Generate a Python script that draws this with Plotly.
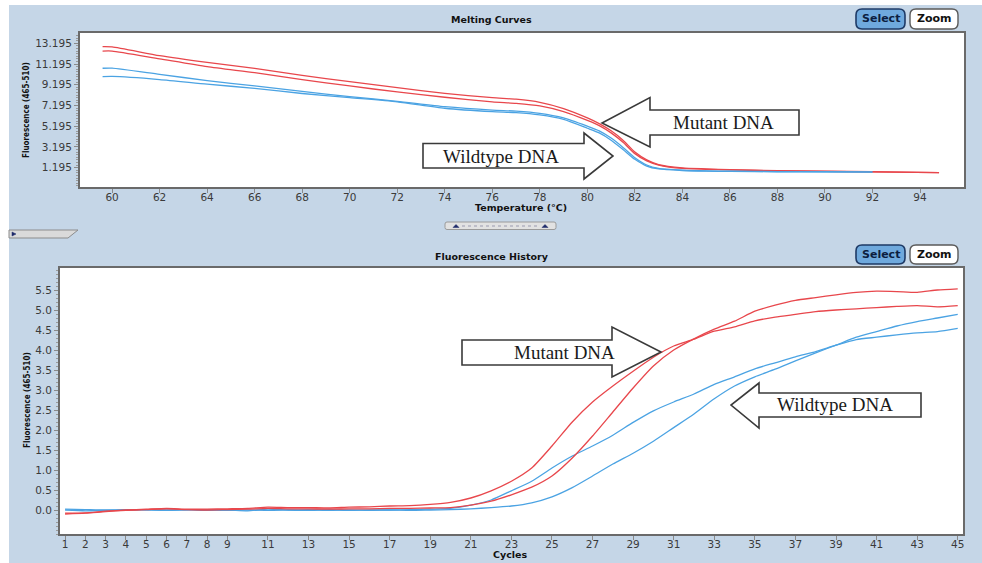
import plotly.graph_objects as go

# ---------------- DATA ----------------
# Melting curves (top panel)
temp_red = [59.6, 60, 62, 64, 66, 68, 70, 72, 74, 76, 77, 78, 79, 80, 80.5, 81, 81.5, 82, 82.5, 83, 84, 85, 86, 88, 90, 92, 94.8]
mut_melt_1 = [12.87, 12.85, 12.0, 11.35, 10.78, 10.1, 9.49, 8.92, 8.37, 7.95, 7.8, 7.5, 6.9, 6.0, 5.45, 4.75, 3.85, 2.7, 1.95, 1.5, 1.18, 1.08, 1.0, 0.9, 0.85, 0.8, 0.72]
mut_melt_2 = [12.45, 12.45, 11.7, 10.95, 10.36, 9.7, 9.08, 8.5, 7.99, 7.55, 7.4, 7.15, 6.6, 5.75, 5.25, 4.55, 3.65, 2.55, 1.85, 1.45, 1.12, 1.04, 0.98, 0.88, 0.83, 0.78, 0.72]
temp_blue = [59.6, 60, 62, 64, 66, 68, 70, 72, 74, 76, 77, 78, 79, 80, 80.5, 81, 81.5, 82, 82.5, 83, 84, 85, 86, 88, 90, 92]
wt_melt_1 = [10.79, 10.8, 10.2, 9.6, 9.08, 8.55, 8.05, 7.6, 7.08, 6.75, 6.65, 6.44, 6.0, 5.2, 4.75, 4.05, 3.15, 2.15, 1.45, 1.12, 0.95, 0.88, 0.85, 0.82, 0.8, 0.78]
wt_melt_2 = [9.98, 10.0, 9.7, 9.25, 8.85, 8.35, 7.95, 7.55, 6.93, 6.6, 6.5, 6.28, 5.85, 5.0, 4.55, 3.85, 2.95, 2.0, 1.35, 1.07, 0.92, 0.86, 0.83, 0.8, 0.78, 0.76]

# Fluorescence history (bottom panel)
cycles = list(range(1, 46))
mut_amp_1 = [-0.08, -0.07, -0.03, 0.0, 0.02, 0.04, 0.02, 0.02, 0.03, 0.04, 0.07, 0.06, 0.06, 0.05, 0.07, 0.08, 0.1, 0.11, 0.14, 0.19,
             0.3, 0.48, 0.72, 1.05, 1.6, 2.2, 2.7, 3.1, 3.47, 3.82, 4.1, 4.27, 4.47, 4.58, 4.73, 4.82, 4.89, 4.96, 5.0, 5.03,
             5.06, 5.09, 5.11, 5.08, 5.11]
mut_amp_2 = [-0.1, -0.08, -0.04, -0.01, 0.01, 0.03, 0.01, 0.0, 0.01, 0.02, 0.04, 0.03, 0.03, 0.02, 0.03, 0.03, 0.04, 0.04, 0.05, 0.06,
             0.12, 0.22, 0.38, 0.57, 0.85, 1.3, 1.85, 2.45, 3.05, 3.6, 4.0, 4.28, 4.52, 4.72, 4.97, 5.12, 5.24, 5.31, 5.38, 5.44,
             5.47, 5.46, 5.44, 5.5, 5.53]
wt_amp_1 = [0.0, -0.02, -0.01, 0.0, 0.01, 0.0, 0.01, -0.01, 0.0, -0.02, 0.02, 0.0, -0.01, 0.01, -0.01, 0.0, 0.0, 0.01, 0.02, 0.04,
            0.12, 0.25, 0.48, 0.72, 1.05, 1.35, 1.6, 1.87, 2.19, 2.48, 2.7, 2.9, 3.14, 3.33, 3.53, 3.68, 3.83, 3.96, 4.12, 4.26,
            4.32, 4.38, 4.43, 4.46, 4.54]
wt_amp_2 = [0.02, 0.01, 0.0, 0.01, 0.0, -0.01, 0.0, 0.01, -0.01, 0.0, -0.01, 0.0, 0.01, -0.01, 0.0, -0.01, 0.0, -0.01, 0.0, 0.01,
            0.03, 0.06, 0.1, 0.18, 0.33, 0.56, 0.85, 1.15, 1.42, 1.72, 2.06, 2.4, 2.78, 3.1, 3.33, 3.52, 3.73, 3.93, 4.12, 4.32,
            4.46, 4.6, 4.71, 4.8, 4.89]

# Tick labels
melt_xticks = list(range(60, 95, 2))
melt_yticks = [1.195, 3.195, 5.195, 7.195, 9.195, 11.195, 13.195]
amp_xticks = [1, 2, 3, 4, 5, 6, 7, 8, 9, 11, 13, 15, 17, 19, 21, 23, 25, 27, 29, 31, 33, 35, 37, 39, 41, 43, 45]
amp_yticks = [0.0, 0.5, 1.0, 1.5, 2.0, 2.5, 3.0, 3.5, 4.0, 4.5, 5.0, 5.5]

# ---------------- STYLE / LAYOUT ----------------
W, H = 982, 563
RED = "#E8474C"
BLUE = "#4BA3E3"
PANEL = "#C5D6E7"
FONT = "DejaVu Sans"


def px(x, y):
    return x / W, 1 - y / H


fig = go.Figure()

for xs, ys, col in [(temp_red, mut_melt_1, RED), (temp_red, mut_melt_2, RED),
                    (temp_blue, wt_melt_1, BLUE), (temp_blue, wt_melt_2, BLUE)]:
    fig.add_trace(go.Scatter(x=xs, y=ys, mode="lines", line=dict(color=col, width=1.3, shape="spline", smoothing=0.6),
                             xaxis="x", yaxis="y", showlegend=False, hoverinfo="skip"))

for ys, col in [(wt_amp_1, BLUE), (wt_amp_2, BLUE), (mut_amp_1, RED), (mut_amp_2, RED)]:
    fig.add_trace(go.Scatter(x=cycles, y=ys, mode="lines", line=dict(color=col, width=1.3, shape="spline", smoothing=0.6),
                             xaxis="x2", yaxis="y2", showlegend=False, hoverinfo="skip"))

axis_common = dict(showline=True, mirror=True, linecolor="#6A6A6A", linewidth=2, showgrid=False, zeroline=False,
                   ticks="outside", ticklen=4, tickcolor="#8A8A8A", tickfont=dict(family=FONT, size=10.5, color="#3A3A3A"),
                   fixedrange=True)

top_x0, top_x1, top_y0, top_y1 = 80, 964, 33, 187
bot_x0, bot_x1, bot_y0, bot_y1 = 60, 963, 268, 534

fig.update_layout(
    width=W, height=H,
    margin=dict(l=0, r=0, t=0, b=0, pad=0),
    paper_bgcolor=PANEL,
    plot_bgcolor="white",
    xaxis=dict(axis_common, domain=[top_x0 / W, top_x1 / W], range=[58.65, 95.85], tickvals=melt_xticks, anchor="y",
               ticklabelstandoff=-5),
    yaxis=dict(axis_common, domain=[1 - top_y1 / H, 1 - top_y0 / H], range=[-0.67, 14.19], tickvals=melt_yticks,
               tickformat=".3f", anchor="x",
               minor=dict(ticks="outside", ticklen=2, tickcolor="#9A9A9A", tick0=0.195, dtick=0.25)),
    xaxis2=dict(axis_common, domain=[bot_x0 / W, bot_x1 / W], range=[0.75, 45.26], tickvals=amp_xticks, anchor="y2",
                ticklabelstandoff=-5),
    yaxis2=dict(axis_common, domain=[1 - bot_y1 / H, 1 - bot_y0 / H], range=[-0.6, 6.05], tickvals=amp_yticks,
                tickformat=".1f", anchor="x2",
                minor=dict(ticks="outside", ticklen=2, tickcolor="#9A9A9A", tick0=0, dtick=0.1)),
)

shapes = []
annotations = []

# white strips around the panel (top and left)
x0, y0 = px(0, 0)
x1, y1 = px(9, 563)
shapes.append(dict(type="rect", xref="paper", yref="paper", x0=x0, y0=y1, x1=x1, y1=y0,
                   fillcolor="white", line=dict(width=0), layer="below"))
x0, y0 = px(0, 0)
x1, y1 = px(982, 5)
shapes.append(dict(type="rect", xref="paper", yref="paper", x0=x0, y0=y1, x1=x1, y1=y0,
                   fillcolor="white", line=dict(width=0), layer="below"))


def txt(x, y, s, size=10, bold=True, color="#111", family=FONT, angle=0):
    ax, ay = px(x, y)
    annotations.append(dict(x=ax, y=ay, xref="paper", yref="paper", text=("<b>%s</b>" % s) if bold else s,
                            showarrow=False, xanchor="center", yanchor="middle", textangle=angle,
                            font=dict(family=family, size=size, color=color)))


# titles
txt(491, 20, "Melting Curves", size=9.5)
txt(492, 256, "Fluorescence History", size=9.5)
txt(521, 208, "Temperature (°C)", size=9.5)
txt(510, 554, "Cycles", size=9.5)
txt(27, 110, "Fluorescence (465-510)", size=8, family="DejaVu Sans Condensed", angle=-90)
txt(27, 400, "Fluorescence (465-510)", size=8, family="DejaVu Sans Condensed", angle=-90)


def rounded(xa, ya, xb, yb, r, fill, line, lw=1.5):
    X0, Y0 = px(xa, ya)
    X1, Y1 = px(xb, yb)
    rx, ry = r / W, r / H
    path = (f"M {X0 + rx},{Y0} L {X1 - rx},{Y0} Q {X1},{Y0} {X1},{Y0 - ry} L {X1},{Y1 + ry} "
            f"Q {X1},{Y1} {X1 - rx},{Y1} L {X0 + rx},{Y1} Q {X0},{Y1} {X0},{Y1 + ry} L {X0},{Y0 - ry} "
            f"Q {X0},{Y0} {X0 + rx},{Y0} Z")
    shapes.append(dict(type="path", xref="paper", yref="paper", path=path, fillcolor=fill,
                       line=dict(color=line, width=lw)))


# Select / Zoom buttons
for (ya, yb) in [(9, 29), (245, 264)]:
    rounded(856, ya, 905, yb, 6, "#6FA9DD", "#1E3A66", 1.6)
    rounded(910, ya, 958, yb, 6, "white", "#5A5A5A", 1.4)
    txt(880.5, (ya + yb) / 2, "Select", size=11, color="#0C1E40")
    txt(934, (ya + yb) / 2, "Zoom", size=11, color="#111")


def poly(points, fill, line, lw=1.2):
    p = []
    for i, (x, y) in enumerate(points):
        X, Y = px(x, y)
        p.append(("M" if i == 0 else "L") + f" {X},{Y}")
    shapes.append(dict(type="path", xref="paper", yref="paper", path=" ".join(p) + " Z",
                       fillcolor=fill, line=dict(color=line, width=lw)))


# slider decorations
poly([(9, 230), (78, 230), (68, 238), (9, 238)], "#DADADA", "#8C8C8C", 1)
poly([(12, 232), (16, 234), (12, 236)], "#1E2A6A", "#1E2A6A", 0.5)
rounded(445, 222, 556, 229.5, 2, "#E2E2E2", "#9A9A9A", 1)
poly([(453, 227.5), (456, 224.5), (459, 227.5)], "#1E2A6A", "#1E2A6A", 0.5)
poly([(542, 227.5), (545, 224.5), (548, 227.5)], "#1E2A6A", "#1E2A6A", 0.5)
a, b = px(462, 226)
c, d = px(538, 226)
shapes.append(dict(type="line", xref="paper", yref="paper", x0=a, y0=b, x1=c, y1=d,
                   line=dict(color="#9A9AB0", width=1, dash="dot")))


# block arrows with labels
def block_arrow(tail_x, head_x, tip_x, tip_y, head_top, head_bot, shaft_top, shaft_bot, label, lx, ly):
    poly([(tail_x, shaft_top), (head_x, shaft_top), (head_x, head_top), (tip_x, tip_y),
          (head_x, head_bot), (head_x, shaft_bot), (tail_x, shaft_bot)], "white", "#3A3A3A", 1.6)
    txt(lx, ly, label, size=19, bold=False, color="#1A1A1A", family="Liberation Serif")


block_arrow(799, 650, 602, 123, 97.5, 147, 110, 135, "Mutant DNA", 723, 123)
block_arrow(423, 584, 613, 156, 133, 179, 143.5, 168, "Wildtype DNA", 501, 156)
block_arrow(462, 612, 661, 352, 327, 377, 340, 365, "Mutant DNA", 564, 352)
block_arrow(921, 759, 731, 405, 383, 428, 393, 417, "Wildtype DNA", 835, 405)

fig.update_layout(shapes=shapes, annotations=annotations)

fig.write_html("out.html", config={"displayModeBar": False, "staticPlot": True},
               post_script="document.body.style.margin='0';document.body.style.padding='0';")
